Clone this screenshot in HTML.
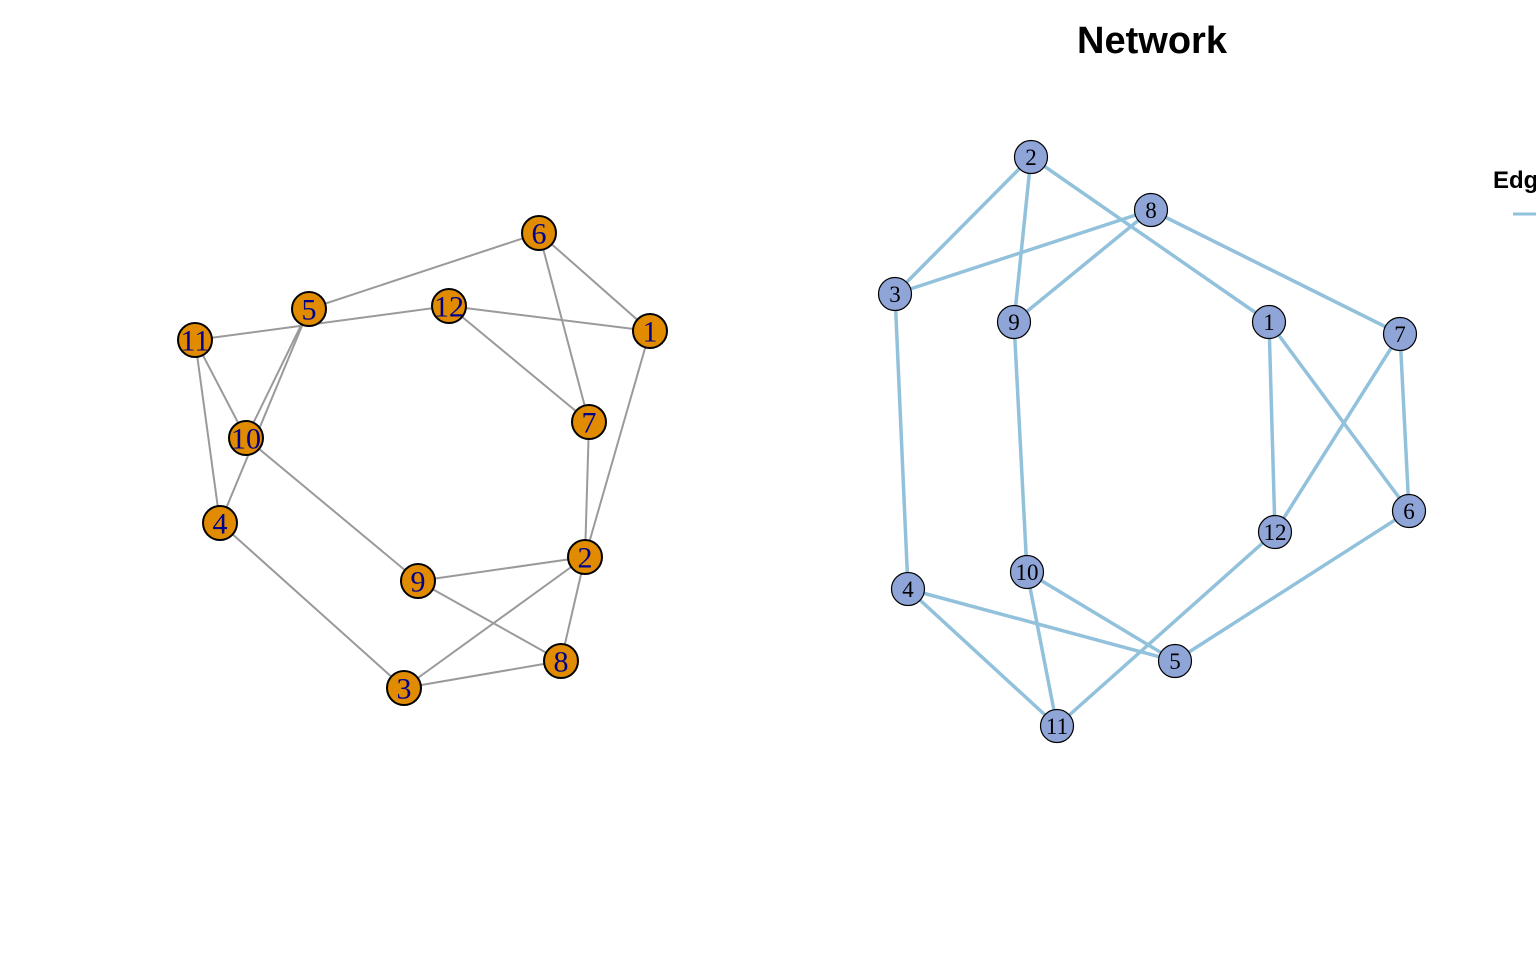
<!DOCTYPE html>
<html><head><meta charset="utf-8"><style>
html,body{margin:0;padding:0;background:#fff;width:1536px;height:960px;overflow:hidden}
svg{display:block}
</style></head><body>
<svg id="chart" width="1536" height="960" viewBox="0 0 1536 960" xmlns="http://www.w3.org/2000/svg">
<text x="1152" y="53" text-anchor="middle" font-family="Liberation Sans, sans-serif" font-weight="bold" font-size="38">Network</text>
<g id="left"></g>
<g id="right"></g>
<g>
<text x="1493" y="188" font-family="Liberation Sans, sans-serif" font-weight="bold" font-size="24">Edges</text>
<line x1="1513" y1="214" x2="1560" y2="214" stroke="#92c1dc" stroke-width="3"/>
</g>
</svg>
<script>
const leftLabels = ["1","2","3","4","5","6","7","8","9","10","11","12"];
const leftX = [650,585,404,220,309,539,589,561,418,246,195,449];
const leftY = [331,557,688,523,309,233,422,661,581,438,340,306];
const leftEdges = [[6,5],[6,1],[6,7],[11,12],[12,1],[5,10],[5,4],[11,10],[11,4],[12,7],[1,2],[7,2],[10,9],[9,2],[9,8],[2,3],[2,8],[3,8],[4,3]];
const rightLabels = ["1","2","3","4","5","6","7","8","9","10","11","12"];
const rightX = [1269,1031,895,908,1175,1409,1400,1151,1014,1027,1057,1275];
const rightY = [322,157,294,589,661,511,334,210,322,572,726,532];
const rightEdges = [[2,3],[2,9],[2,1],[8,3],[8,9],[8,7],[3,4],[9,10],[1,12],[1,6],[7,12],[7,6],[12,11],[6,5],[4,5],[4,11],[10,5],[10,11]];
const NS="http://www.w3.org/2000/svg";
function draw(g, labels, xs, ys, edges, o){
  edges.forEach(e=>{
    const a=e[0]-1,b=e[1]-1;
    const l=document.createElementNS(NS,"line");
    
    
    l.setAttribute("x1",xs[a]);l.setAttribute("y1",ys[a]);
    l.setAttribute("x2",xs[b]);l.setAttribute("y2",ys[b]);
    l.setAttribute("stroke",o.ec);l.setAttribute("stroke-width",o.ew);
    g.appendChild(l);
  });
  labels.forEach((t,i)=>{
    const c=document.createElementNS(NS,"circle");
    
    
    c.setAttribute("cx",xs[i]);c.setAttribute("cy",ys[i]);c.setAttribute("r",o.r);
    c.setAttribute("fill",o.fill);c.setAttribute("stroke","#000");c.setAttribute("stroke-width",o.sw);
    g.appendChild(c);
    const tx=document.createElementNS(NS,"text");
    
    
    tx.setAttribute("x",xs[i]);tx.setAttribute("y",ys[i]+o.fs*0.35);
    tx.setAttribute("text-anchor","middle");
    tx.setAttribute("font-family","Liberation Serif, serif");
    tx.setAttribute("font-size",o.fs);tx.setAttribute("fill",o.tc);
    tx.textContent=t;
    g.appendChild(tx);
  });
}
draw(document.getElementById("left"),leftLabels,leftX,leftY,leftEdges,{ec:"#9a9a9a",ew:2,r:17,fill:"#e08b00",sw:2,fs:30,tc:"#00008b"});
draw(document.getElementById("right"),rightLabels,rightX,rightY,rightEdges,{ec:"#92c1dc",ew:3.5,r:16.5,fill:"#8fa5d8",sw:1.2,fs:23,tc:"#000"});
</script>
</body></html>
